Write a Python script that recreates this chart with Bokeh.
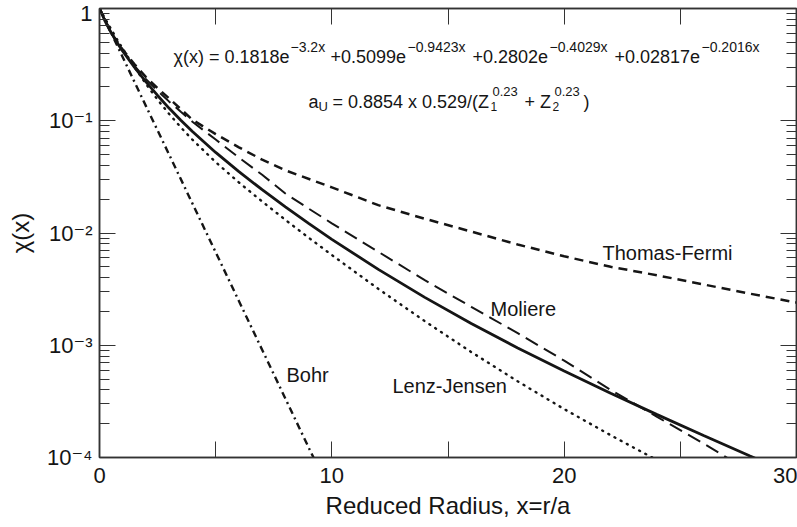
from bokeh.plotting import figure
from bokeh.models import (Range1d, LogAxis, LinearAxis, FixedTicker,
                          CustomJSTickFormatter, Label)
from bokeh.embed import file_html
from bokeh.resources import INLINE

# ---------------- data ----------------
x_universal = [0, 0.25, 0.5, 0.75, 1, 1.5, 2, 2.5, 3, 3.5, 4, 5, 6, 7, 8, 9, 10,
               12, 14, 16, 18, 20, 22, 24, 26, 28, 29, 30]
y_universal = [1.0, 0.765, 0.610, 0.499, 0.416, 0.300, 0.222, 0.168, 0.129, 0.101,
               0.0802, 0.0522, 0.0352, 0.0243, 0.0171, 0.0122, 0.00878,
               0.00474, 0.00267, 0.00156, 0.000947, 0.000589, 0.000374,
               0.000241, 0.000157, 0.000103, 0.000084, 0.000068]

x_moliere = [0, 0.25, 0.5, 0.75, 1, 1.5, 2, 2.5, 3, 3.5, 4, 5, 6, 7, 8, 9, 10,
             12, 14, 16, 18, 20, 22, 24, 26, 28, 30]
y_moliere = [1.0, 0.78, 0.61, 0.50, 0.42, 0.31, 0.235, 0.185, 0.148, 0.120,
             0.098, 0.068, 0.047, 0.0330, 0.0225, 0.0165, 0.0122,
             0.0068, 0.0038, 0.0022, 0.00128, 0.00073, 0.00040,
             0.00023, 0.000133, 0.000075, 0.000042]

x_lenz_jensen = [0, 0.25, 0.5, 0.75, 1, 1.5, 2, 2.5, 3, 3.5, 4, 5, 6, 7, 8, 9, 10,
                 12, 14, 16, 18, 20, 22, 24, 26]
y_lenz_jensen = [1.0, 0.806, 0.654, 0.533, 0.438, 0.301, 0.2125, 0.154, 0.1147,
                 0.0873, 0.0678, 0.0428, 0.0282, 0.0191, 0.0131, 0.00909,
                 0.00637, 0.00318, 0.00164, 0.00087, 0.000477, 0.000270,
                 0.000158, 0.0000947, 0.000058]

x_thomas_fermi = [0, 0.25, 0.5, 0.75, 1, 1.5, 2, 2.5, 3, 4, 5, 6, 7, 8, 10,
                  12, 14, 16, 18, 20, 22, 24, 26, 28, 30]
y_thomas_fermi = [1.0, 0.78, 0.61, 0.51, 0.43, 0.32, 0.245, 0.195, 0.158, 0.102,
                  0.076, 0.058, 0.045, 0.0362, 0.0255, 0.0177, 0.0134, 0.0103,
                  0.0079, 0.0062, 0.0050, 0.0042, 0.00348, 0.00288, 0.0024]

x_bohr = [0, 1, 2, 3, 4, 5, 6, 7, 8, 9, 9.5]
y_bohr = [1.0, 0.368, 0.135, 0.0498, 0.0183, 0.00674, 0.00248, 0.000912,
          0.000335, 0.000123, 0.000075]

x_ticks = [0, 10, 20, 30]
x_minor_ticks = [5, 15, 25]
y_ticks = [1e-4, 1e-3, 1e-2, 1e-1, 1]
y_minor_ticks = [k * 10.0 ** e for e in (-4, -3, -2, -1) for k in range(2, 10)]

curve_names = ["Thomas-Fermi", "Moliere", "Lenz-Jensen", "Bohr"]
# label anchors (x in reduced radius, y in chi)
curve_label_x = [21.65, 16.83, 12.61, 8.05]
curve_label_y = [0.00569, 0.00184, 0.000379, 0.000475]

FONT = "Liberation Sans"
INK = "#151515"
AX = "#333333"

p = figure(width=797, height=527, x_range=Range1d(0, 30),
           y_range=Range1d(1e-4, 1), y_axis_type="log",
           output_backend="svg", toolbar_location=None,
           min_border_left=99, min_border_right=1, min_border_top=8,
           min_border_bottom=70)
p.grid.visible = False
p.outline_line_color = AX
p.outline_line_width = 1.5
p.background_fill_color = "white"
p.border_fill_color = "white"

empty = CustomJSTickFormatter(code="return ''")
log_fmt = CustomJSTickFormatter(code="""
const e = Math.round(Math.log10(tick));
if (e === 0) { return "1"; }
const s = {"-": "\u207b", "0": "\u2070", "1": "\u00b9", "2": "\u00b2", "3": "\u00b3",
           "4": "\u2074", "5": "\u2075", "6": "\u2076", "7": "\u2077", "8": "\u2078",
           "9": "\u2079"};
return "10" + String(e).split("").map((c) => s[c]).join("");
""")

# bottom axis
xa = p.xaxis[0]
xa.ticker = FixedTicker(ticks=x_ticks, minor_ticks=x_minor_ticks)
xa.major_tick_in = 16
xa.major_tick_out = 0
xa.minor_tick_in = 16
xa.minor_tick_out = 0
xa.axis_line_width = 1.5
xa.axis_line_color = AX
xa.major_tick_line_color = AX
xa.minor_tick_line_color = AX
xa.major_label_text_font = FONT
xa.major_label_text_font_size = "22px"
xa.major_label_text_color = INK
xa.major_label_standoff = 10
xa.axis_label = "Reduced Radius, x=r/a"
xa.axis_label_text_font = FONT
xa.axis_label_text_font_size = "24px"
xa.axis_label_text_font_style = "normal"
xa.axis_label_text_color = INK
xa.axis_label_standoff = 6

# left axis
ya = p.yaxis[0]
ya.ticker = FixedTicker(ticks=y_ticks, minor_ticks=y_minor_ticks)
ya.formatter = log_fmt
ya.major_tick_in = 16
ya.major_tick_out = 0
ya.minor_tick_in = 10
ya.minor_tick_out = 0
ya.axis_line_width = 1.5
ya.axis_line_color = AX
ya.major_tick_line_color = AX
ya.minor_tick_line_color = AX
ya.major_label_text_font = FONT + ", DejaVu Sans"
ya.major_label_text_font_size = "22px"
ya.major_label_text_color = INK
ya.major_label_standoff = 7
ya.axis_label = "\u03c7(x)"
ya.axis_label_text_font = FONT
ya.axis_label_text_font_size = "24px"
ya.axis_label_text_font_style = "normal"
ya.axis_label_text_color = INK
ya.axis_label_standoff = 10

# top and right axes (ticks only)
top = LinearAxis(ticker=FixedTicker(ticks=x_ticks, minor_ticks=x_minor_ticks),
                 formatter=empty, major_tick_in=16, major_tick_out=0,
                 minor_tick_in=16, minor_tick_out=0, major_label_standoff=0,
                 axis_line_width=1.5, axis_line_color=AX,
                 major_tick_line_color=AX, minor_tick_line_color=AX)
p.add_layout(top, "above")
right = LogAxis(ticker=FixedTicker(ticks=y_ticks, minor_ticks=y_minor_ticks),
                formatter=empty, major_tick_in=16, major_tick_out=0,
                minor_tick_in=10, minor_tick_out=0, major_label_standoff=0,
                axis_line_width=1.5, axis_line_color=AX,
                major_tick_line_color=AX, minor_tick_line_color=AX)
p.add_layout(right, "right")

# curves
p.line(x_thomas_fermi, y_thomas_fermi, line_color=INK, line_width=2.5, line_dash="9 6")
p.line(x_moliere, y_moliere, line_color=INK, line_width=2.0, line_dash="14 7")
p.line(x_lenz_jensen, y_lenz_jensen, line_color=INK, line_width=2.4,
       line_dash="1 6", line_cap="round")
p.line(x_bohr, y_bohr, line_color=INK, line_width=2.4, line_dash="7 4 2 4")
p.line(x_universal, y_universal, line_color=INK, line_width=2.8)

# curve labels
for name, lx, ly in zip(curve_names, curve_label_x, curve_label_y):
    p.add_layout(Label(x=lx, y=ly, y_offset=7, text=name, text_font=FONT,
                       text_font_size="20px", text_color=INK, text_align="left",
                       text_baseline="alphabetic"))


def put(text, px, py, size):
    # position relative to the frame's top-left corner (frame at 99, 8), in pixels
    p.add_layout(Label(x=0, y=1, x_offset=px - 99, y_offset=-(py - 8), text=text,
                       text_font=FONT, text_font_size=f"{size}px", text_color=INK,
                       text_align="left", text_baseline="alphabetic"))


# formula line
put("\u03c7(x) = 0.1818e", 173, 56, 18)
put("\u22123.2x", 290, 46, 14)
put("+0.5099e", 330, 56, 18)
put("\u22120.9423x", 407, 46, 14)
put("+0.2802e", 472, 56, 18)
put("\u22120.4029x", 549, 46, 14)
put("+0.02817e", 614, 56, 18)
put("\u22120.2016x", 701, 46, 14)

# screening length line
put("a", 308, 101, 18)
put("U", 318, 106, 13)
put("= 0.8854 x 0.529/(Z", 332, 101, 18)
put("1", 490, 106, 12)
put("0.23", 492, 91, 13)
put("+ Z", 524, 101, 18)
put("2", 552, 106, 12)
put("0.23", 554, 91, 13)
put(")", 583, 101, 18)

open("out.html", "w").write(file_html(p, INLINE))
